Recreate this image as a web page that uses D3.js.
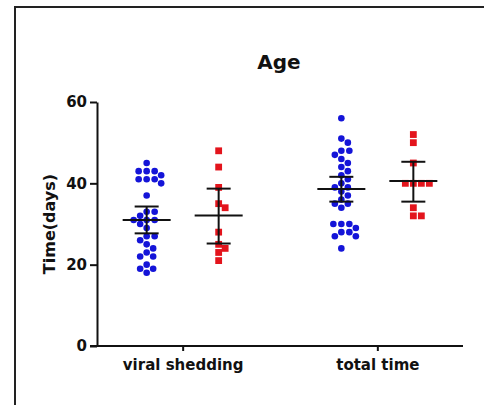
<!DOCTYPE html>
<meta charset="utf-8">
<style>
  body { margin: 0; background: #fff; }
  text { font-family: "DejaVu Sans", sans-serif; font-weight: bold; fill: #111; }
  .axis path, .axis line { stroke: #111; stroke-width: 2px; }
  .axis text { font-size: 15px; }
</style>
<svg width="484" height="405"></svg>
<script src="https://d3js.org/d3.v7.min.js"></script>
<script>
  // Data
  var categories = ["viral shedding", "total time"];
  var series = ["group1", "group2"];
  var yTicks = [0, 20, 40, 60];

  var shedBlue = [45, 43, 43, 43, 42, 41, 41, 41, 40, 37, 33, 33, 32, 31, 31,
    31, 30, 29, 27, 27, 26, 25, 24, 23, 22, 22, 20, 19, 19, 18];
  var shedRed = [48, 44, 39, 35, 34, 28, 25, 24, 23, 21];
  var totalBlue = [56, 51, 50, 48, 48, 47, 46, 45, 44, 43, 42, 41, 40, 39, 39,
    38, 37, 36, 35, 35, 34, 30, 30, 30, 29, 28, 28, 27, 27, 24];
  var totalRed = [52, 50, 45, 40, 40, 40, 40, 34, 32, 32];

  // mean and error bar ends, in the order above
  var means = [31.0, 32.1, 38.6, 40.6];
  var upper = [34.3, 38.7, 41.6, 45.3];
  var lower = [27.7, 25.2, 35.5, 35.5];

  var groups = [
    { cat: categories[0], ser: series[0], values: shedBlue },
    { cat: categories[0], ser: series[1], values: shedRed },
    { cat: categories[1], ser: series[0], values: totalBlue },
    { cat: categories[1], ser: series[1], values: totalRed }
  ];
  groups.forEach(function (g, i) {
    g.mean = means[i];
    g.hi = upper[i];
    g.lo = lower[i];
  });

  var svg = d3.select("svg");
  var color = d3.scaleOrdinal().domain(series).range(["#1414d8", "#e3141c"]);

  // outer frame
  svg.append("rect")
    .attr("x", 15).attr("y", 7)
    .attr("width", 490).attr("height", 420)
    .attr("fill", "none")
    .attr("stroke", "#222")
    .attr("stroke-width", 2);

  var y = d3.scaleLinear().domain([0, 60]).range([346, 102]);
  var x = d3.scalePoint().domain(categories).range([97, 463]).padding(0.44);
  var xs = d3.scalePoint().domain(series).range([-36, 36]);

  // axes
  svg.append("g")
    .attr("class", "axis")
    .attr("transform", "translate(97,0)")
    .call(d3.axisLeft(y).tickValues(yTicks).tickSize(7).tickSizeOuter(0).tickPadding(3));

  var xAxis = svg.append("g")
    .attr("class", "axis")
    .attr("transform", "translate(0,346)")
    .call(d3.axisBottom(x).tickSize(5).tickSizeOuter(0).tickPadding(8));
  xAxis.selectAll("text").style("font-size", "15px");
  xAxis.select(".domain").attr("d", "M90,0H463");

  // title and y label
  svg.append("text")
    .attr("x", 279).attr("y", 69)
    .attr("text-anchor", "middle")
    .style("font-size", "20px")
    .text("Age");

  svg.append("text")
    .attr("transform", "translate(55,224) rotate(-90)")
    .attr("text-anchor", "middle")
    .style("font-size", "16px")
    .text("Time(days)");

  // simple beeswarm placement
  function swarm(values, cx, d) {
    var placed = [];
    values.slice().sort(function (a, b) { return b - a; }).forEach(function (v) {
      var py = y(v), px = cx;
      for (var k = 0; k < 200; k++) {
        var off = (k % 2 ? 1 : -1) * Math.ceil(k / 2) * 0.5;
        var ok = placed.every(function (p) {
          var dx = p.x - (cx + off), dy = p.y - py;
          return dx * dx + dy * dy >= d * d;
        });
        if (ok) { px = cx + off; break; }
      }
      placed.push({ x: px, y: py, v: v });
    });
    return placed;
  }

  groups.forEach(function (g) {
    var cx = x(g.cat) + xs(g.ser);
    var pts = swarm(g.values, cx, 7.6);
    var c = color(g.ser);
    if (g.ser === series[0]) {
      svg.append("g").selectAll("circle").data(pts).join("circle")
        .attr("cx", function (d) { return d.x; })
        .attr("cy", function (d) { return d.y; })
        .attr("r", 3.3)
        .attr("fill", c);
    } else {
      svg.append("g").selectAll("rect").data(pts).join("rect")
        .attr("x", function (d) { return d.x - 3.4; })
        .attr("y", function (d) { return d.y - 3.4; })
        .attr("width", 6.8).attr("height", 6.8)
        .attr("fill", c);
    }

    var eb = svg.append("g").attr("stroke", "#111").attr("stroke-width", 2);
    eb.append("line")
      .attr("x1", cx - 24).attr("x2", cx + 24)
      .attr("y1", y(g.mean)).attr("y2", y(g.mean));
    eb.append("line")
      .attr("x1", cx).attr("x2", cx)
      .attr("y1", y(g.hi)).attr("y2", y(g.lo));
    [g.hi, g.lo].forEach(function (v) {
      eb.append("line")
        .attr("x1", cx - 12).attr("x2", cx + 12)
        .attr("y1", y(v)).attr("y2", y(v));
    });
  });
</script>
